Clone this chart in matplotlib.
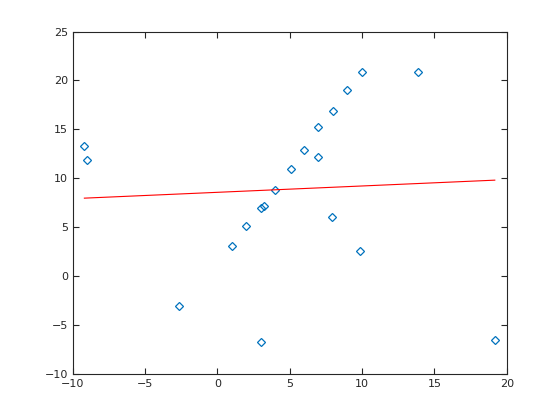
import numpy as np
import matplotlib
matplotlib.use('Agg')
import matplotlib.pyplot as plt

# data points
x = [-9.20, -8.99, 5.05, 3.98, 2.98, 3.25, 1.98, 1.02, -2.64, 3.02,
     9.99, 13.86, 8.95, 7.99, 6.98, 5.99, 6.98, 7.92, 9.85, 19.17]
y = [13.27, 11.90, 10.90, 8.78, 6.94, 7.17, 5.10, 3.06, -3.06, -6.73,
     20.88, 20.82, 18.98, 16.84, 15.20, 12.86, 12.14, 6.02, 2.55, -6.53]

# fitted line end points
fit_x = [-9.20, 19.17]
fit_y = [7.96, 9.80]

fig = plt.figure(figsize=(5.6, 4.2), dpi=100)
ax = fig.add_axes([0.13, 0.11, 0.775, 0.815])

ax.plot(x, y, 'D', mfc='none', mec=(0, 0.447, 0.741), ms=4, mew=0.9)
ax.plot(fit_x, fit_y, '-', color='r', lw=0.8)

ax.set_xlim(-10, 20)
ax.set_ylim(-10, 25)
ax.set_xticks(np.arange(-10, 21, 5))
ax.set_yticks(np.arange(-10, 26, 5))

gray = (0.15, 0.15, 0.15)
for s in ax.spines.values():
    s.set_color(gray)
    s.set_linewidth(0.8)
ax.tick_params(direction='in', top=True, right=True, colors=gray,
               labelsize=8, length=4, width=0.8)

fig.savefig('out.png', dpi=100)
